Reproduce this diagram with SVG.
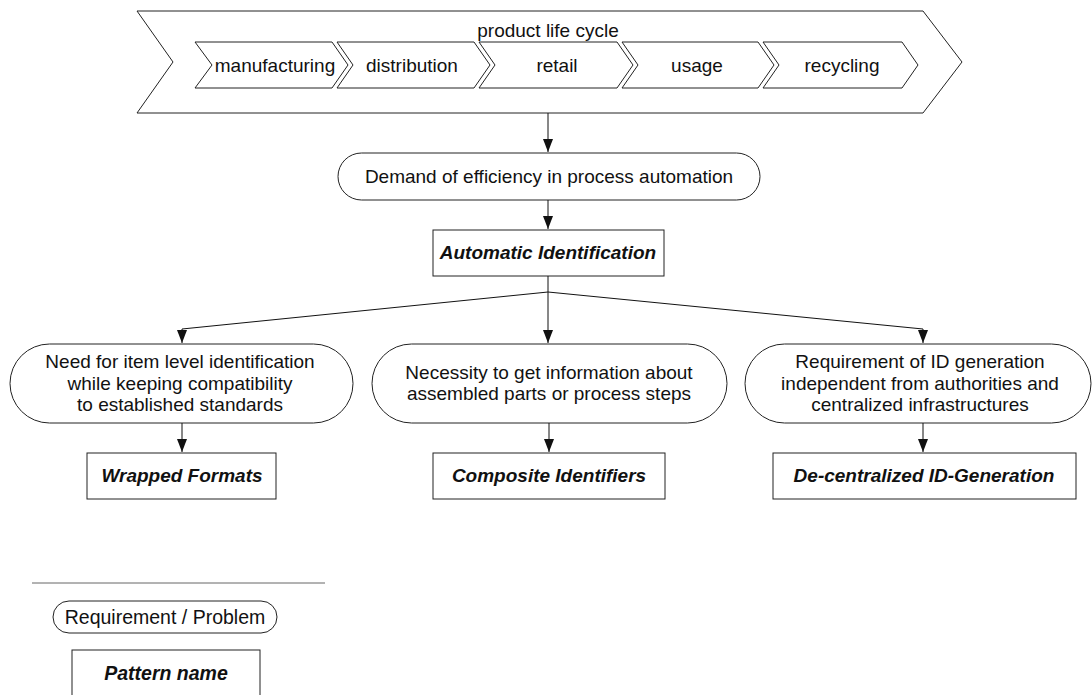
<svg xmlns="http://www.w3.org/2000/svg" width="1092" height="695" viewBox="0 0 1092 695">
<style>
.s{fill:#fff;stroke:#222;stroke-width:1}
.t{font-family:"Liberation Sans",Arial,sans-serif;font-size:19px;fill:#111;text-anchor:middle}
.b{font-weight:bold;font-style:italic}
.l{font-size:19.5px}
.c{fill:none;stroke:#111;stroke-width:1}
</style>
<defs>
<marker id="a" markerWidth="13" markerHeight="10" refX="13" refY="5" orient="auto" markerUnits="userSpaceOnUse" viewBox="0 0 13 10">
<path d="M0,0 L13,5 L0,10 Z" fill="#111"/>
</marker>
</defs>
<rect width="1092" height="695" fill="#fff"/>
<g id="lifecycle">
<path class="s" d="M137,11 L923,11 L962,62 L923,113 L137,113 L173,62 Z"/>
<text class="t" x="548" y="37">product life cycle</text>
</g>
<g id="manufacturing">
<path class="s" d="M195,42 L332,42 L348,65 L332,88 L195,88 L212,65 Z"/>
<text class="t" x="275" y="72">manufacturing</text>
</g>
<g id="distribution">
<path class="s" d="M337,42 L474,42 L490,65 L474,88 L337,88 L353,65 Z"/>
<text class="t" x="412" y="72">distribution</text>
</g>
<g id="retail">
<path class="s" d="M479,42 L617,42 L633,65 L617,88 L479,88 L495,65 Z"/>
<text class="t" x="557" y="72">retail</text>
</g>
<g id="usage">
<path class="s" d="M622,42 L758,42 L774,65 L758,88 L622,88 L638,65 Z"/>
<text class="t" x="697" y="72">usage</text>
</g>
<g id="recycling">
<path class="s" d="M763,42 L902,42 L918,65 L902,88 L763,88 L779,65 Z"/>
<text class="t" x="842" y="72">recycling</text>
</g>
<g id="demand">
<rect class="s" x="338" y="153" width="422" height="47" rx="23.5"/>
<text class="t" x="549" y="183">Demand of efficiency in process automation</text>
</g>
<g id="autoid">
<rect class="s" x="433" y="230" width="231" height="46"/>
<text class="t b" x="548" y="259">Automatic Identification</text>
</g>
<g id="need">
<rect class="s" x="10" y="344" width="343" height="79" rx="39.5"/>
<text class="t" x="180" y="368">Need for item level identification</text>
<text class="t" x="180" y="390">while keeping compatibility</text>
<text class="t" x="180" y="411">to established standards</text>
</g>
<g id="necessity">
<rect class="s" x="372" y="344" width="355" height="79" rx="39.5"/>
<text class="t" x="549" y="379">Necessity to get information about</text>
<text class="t" x="549" y="400">assembled parts or process steps</text>
</g>
<g id="requirement">
<rect class="s" x="745" y="344" width="346" height="79" rx="39.5"/>
<text class="t" x="920" y="368">Requirement of ID generation</text>
<text class="t" x="920" y="390">independent from authorities and</text>
<text class="t" x="920" y="411">centralized infrastructures</text>
</g>
<g id="wrapped">
<rect class="s" x="87" y="453" width="189" height="46"/>
<text class="t b" x="182" y="482">Wrapped Formats</text>
</g>
<g id="composite">
<rect class="s" x="433" y="453" width="232" height="46"/>
<text class="t b" x="549" y="482">Composite Identifiers</text>
</g>
<g id="decentral">
<rect class="s" x="773" y="453" width="303" height="46"/>
<text class="t b" x="924" y="482">De-centralized ID-Generation</text>
</g>
<g id="legend">
<line x1="32" y1="583" x2="325" y2="583" stroke="#666" stroke-width="1"/>
<rect class="s" x="53" y="601" width="224" height="32" rx="16"/>
<text class="t l" x="165" y="624">Requirement / Problem</text>
<rect class="s" x="72" y="650" width="188" height="50"/>
<text class="t b l" x="166" y="680">Pattern name</text>
</g>
<g id="connectors">
<line class="c" x1="548" y1="113" x2="548" y2="152" marker-end="url(#a)"/>
<line class="c" x1="548" y1="200" x2="548" y2="229" marker-end="url(#a)"/>
<polyline class="c" points="548,276 548,292"/>
<line class="c" x1="548" y1="292" x2="548" y2="343" marker-end="url(#a)"/>
<polyline class="c" points="548,292 182,329 182,343" marker-end="url(#a)"/>
<polyline class="c" points="548,292 923,329 923,343" marker-end="url(#a)"/>
<line class="c" x1="182" y1="423" x2="182" y2="452" marker-end="url(#a)"/>
<line class="c" x1="549" y1="423" x2="549" y2="452" marker-end="url(#a)"/>
<line class="c" x1="923" y1="423" x2="923" y2="452" marker-end="url(#a)"/>
</g>
</svg>
